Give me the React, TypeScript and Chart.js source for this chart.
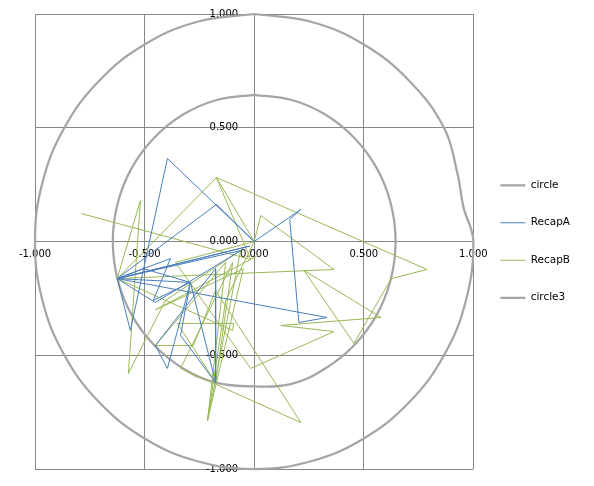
import { useEffect, useRef } from "react";
import { Chart, registerables } from "chart.js";

Chart.register(...registerables);

const seriesNames = ["circle", "RecapA", "RecapB", "circle3"];
const tickValues = [-1, -0.5, 0, 0.5, 1];

const circleX = [0, 0.259, 0.5, 0.707, 0.866, 0.927, 0.955, 1, 0.966, 0.866, 0.707, 0.5, 0.259, 0, -0.259, -0.5, -0.707, -0.866, -0.966, -1, -0.966, -0.866, -0.707, -0.5, -0.259, 0];
const circleY = [1, 0.966, 0.866, 0.707, 0.5, 0.3, 0.15, 0, -0.259, -0.5, -0.707, -0.866, -0.966, -1, -0.966, -0.866, -0.707, -0.5, -0.259, 0, 0.259, 0.5, 0.707, 0.866, 0.966, 1];

const recapAX = [0, -0.396, -0.565, -0.625, -0.172, 0, 0.213, 0.162, 0.204, 0.332, -0.625, -0.291, -0.396, -0.451, -0.176, -0.176, -0.291, -0.506, -0.625, -0.451, -0.062, -0.625, -0.02, -0.625, -0.382, -0.46, -0.291, -0.336, -0.176];
const recapAY = [0, 0.365, -0.391, -0.163, 0.163, 0, 0.141, 0.097, -0.356, -0.334, -0.163, -0.18, -0.558, -0.457, -0.119, -0.62, -0.18, -0.119, -0.163, -0.268, -0.04, -0.163, -0.02, -0.163, -0.075, -0.259, -0.18, -0.413, -0.62];

const recapBX = [-0.789, -0.016, -0.172, 0.789, 0.625, 0.455, 0.227, 0.579, 0.121, 0.364, -0.016, -0.359, 0, 0.03, 0.364, -0.625, -0.519, -0.574, -0.405, -0.062, -0.213, -0.13, -0.451, -0.277, -0.176, 0.213, -0.336, -0.098, -0.176, -0.35, -0.094, -0.098, -0.625, -0.172, 0, -0.13, -0.213, -0.05, -0.45, 0.02];
const recapBY = [0.123, -0.079, 0.281, -0.123, -0.163, -0.448, -0.127, -0.334, -0.369, -0.396, -0.558, -0.092, 0, 0.114, -0.123, -0.163, 0.18, -0.58, -0.259, -0.04, -0.787, -0.092, -0.457, -0.457, -0.215, -0.796, -0.558, -0.092, -0.62, -0.36, -0.36, -0.391, -0.163, 0.281, 0, -0.259, -0.787, -0.12, -0.3, -0.06];

const circle3X = [0, 0.167, 0.3225, 0.456, 0.559, 0.623, 0.645, 0.623, 0.559, 0.456, 0.3225, 0.167, 0, -0.176, -0.3225, -0.456, -0.559, -0.623, -0.645, -0.623, -0.559, -0.456, -0.3225, -0.167, 0];
const circle3Y = [0.645, 0.623, 0.559, 0.456, 0.3225, 0.167, 0, -0.167, -0.3225, -0.456, -0.559, -0.627, -0.637, -0.62, -0.559, -0.456, -0.3225, -0.167, 0, 0.167, 0.3225, 0.456, 0.559, 0.623, 0.645];

const seriesColors = ["#A5A5A5", "#4A7EBB", "#98B954", "#A5A5A5"];

function pts(xs: number[], ys: number[]) {
  return xs.map((x, i) => ({ x, y: ys[i] }));
}

const yLabelShift = {
  id: "yLabelShift",
  beforeDraw(chart: any) {
    const s = chart.scales.y;
    if (!s || !s.getLabelItems) return;
    const items = s.getLabelItems(chart.chartArea);
    if (items && !items._shifted) {
      items.forEach((it: any) => {
        if (it.options && it.options.translation) it.options.translation[0] -= 16;
      });
      items._shifted = true;
    }
  },
};

export default function App() {
  const ref = useRef<HTMLCanvasElement | null>(null);

  useEffect(() => {
    document.body.style.margin = "0";
    if (!ref.current) return;
    Chart.defaults.font.family = "'DejaVu Sans', sans-serif";
    const xsAll = [circleX, recapAX, recapBX, circle3X];
    const ysAll = [circleY, recapAY, recapBY, circle3Y];
    const datasets = seriesNames.map((name, i) => {
      const isCircle = i === 0 || i === 3;
      return {
        label: name,
        data: pts(xsAll[i], ysAll[i]),
        showLine: true,
        borderColor: seriesColors[i],
        backgroundColor: seriesColors[i],
        borderWidth: isCircle ? 2.25 : 1,
        pointRadius: 0,
        pointHoverRadius: 0,
        tension: isCircle ? 0.4 : 0,
        fill: false,
        clip: false as any,
      };
    });
    const fmt = (v: any) => Number(v).toFixed(3);
    const chart = new Chart(ref.current, {
      type: "scatter",
      data: { datasets },
      plugins: [yLabelShift],
      options: {
        responsive: false,
        animation: false,
        devicePixelRatio: 1,
        layout: { padding: { left: 35, top: 14, bottom: 17, right: 14 } },
        scales: {
          x: {
            type: "linear",
            min: tickValues[0],
            max: tickValues[tickValues.length - 1],
            position: { y: 0 } as any,
            afterBuildTicks: (s: any) => { s.ticks = tickValues.map((v) => ({ value: v })); },
            ticks: { callback: fmt, color: "#000", font: { size: 10 }, padding: 7, maxRotation: 0, autoSkip: false },
            grid: { color: "#868686", lineWidth: 1, drawTicks: false },
            border: { display: false },
          },
          y: {
            type: "linear",
            min: tickValues[0],
            max: tickValues[tickValues.length - 1],
            position: { x: 0 } as any,
            afterBuildTicks: (s: any) => { s.ticks = tickValues.map((v) => ({ value: v })); },
            ticks: { callback: fmt, color: "#000", font: { size: 10 }, padding: 0, autoSkip: false },
            grid: { color: "#868686", lineWidth: 1, drawTicks: false },
            border: { display: false },
          },
        },
        plugins: {
          legend: {
            position: "right",
            labels: {
              usePointStyle: true,
              pointStyle: "line",
              pointStyleWidth: 25,
              padding: 27,
              color: "#000",
              font: { size: 10.5 },
            },
          },
          tooltip: { enabled: false },
        },
      },
    });
    return () => chart.destroy();
  }, []);

  return (
    <div style={{ position: "absolute", left: 0, top: 0, width: 594, height: 486, background: "#fff" }}>
      <canvas ref={ref} width={594} height={486} style={{ display: "block" }} />
    </div>
  );
}
